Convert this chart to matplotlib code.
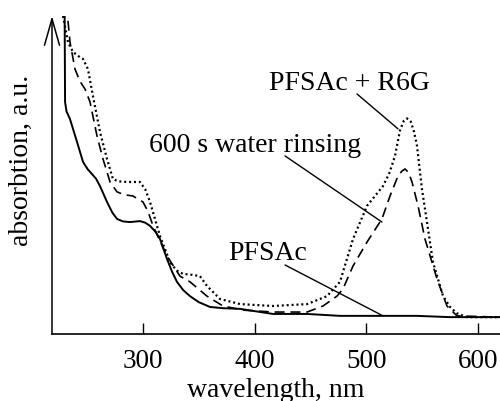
import matplotlib
matplotlib.use("Agg")
import matplotlib.pyplot as plt

plt.rcParams['font.family'] = ['Liberation Serif', 'DejaVu Serif']

# PFSAc film (solid)
wl_pfsac = [229.8, 230.2, 231.5, 234.6, 240.9, 246.3, 250.5, 254.3, 258.0, 261.5,
            267.8, 272.5, 276.7, 282.0, 288.4, 297.3, 302.0, 306.3, 311.0, 315.2,
            321.5, 326.0, 330.4, 336.0, 342.1, 350.0, 360.0, 372.0, 386.9, 416.4,
            446.9, 476.4, 514.9, 545.3, 574.9, 619.7]
abs_pfsac = [1.02, 0.730, 0.700, 0.676, 0.604, 0.541, 0.518, 0.503, 0.488, 0.465,
             0.415, 0.382, 0.362, 0.354, 0.352, 0.355, 0.350, 0.340, 0.322, 0.299,
             0.236, 0.196, 0.164, 0.138, 0.119, 0.100, 0.085, 0.081, 0.079, 0.063,
             0.063, 0.057, 0.057, 0.057, 0.053, 0.053]

# PFSAc + R6G (dotted)
wl_r6g = [228.4, 232.8, 237.3, 242.0, 246.3, 250.7, 255.2, 261.5, 267.8, 273.1,
          278.0, 285.7, 297.3, 302.0, 306.3, 315.2, 324.2, 330.0, 335.8, 344.0,
          351.0, 357.3, 369.0, 386.9, 416.4, 446.9, 464.8, 476.4, 488.1, 500.6,
          508.0, 514.9, 520.5, 525.7, 530.1, 533.5, 536.4, 539.8, 542.8, 545.4,
          549.8, 554.3, 559.7, 568.7, 575.0, 581.2, 590.1, 619.7]
abs_r6g = [1.0, 0.918, 0.887, 0.874, 0.865, 0.833, 0.748, 0.635, 0.550, 0.487,
           0.480, 0.478, 0.478, 0.455, 0.415, 0.308, 0.226, 0.200, 0.189, 0.186,
           0.182, 0.151, 0.110, 0.094, 0.088, 0.094, 0.119, 0.164, 0.299, 0.403,
           0.435, 0.465, 0.505, 0.560, 0.640, 0.670, 0.678, 0.668, 0.635, 0.591,
           0.456, 0.352, 0.226, 0.119, 0.085, 0.065, 0.053, 0.053]

# after 600 s water rinsing (dashed)
wl_rinse = [232.8, 234.6, 239.1, 243.5, 248.1, 252.5, 258.8, 264.2, 270.5, 276.7,
            283.0, 291.0, 300.0, 304.5, 309.0, 321.5, 333.1, 342.1, 357.3, 371.6,
            390.0, 416.4, 446.9, 461.2, 473.7, 479.1, 488.1, 500.6, 514.0, 521.2,
            528.4, 531.8, 534.6, 537.8, 540.9, 546.3, 552.5, 563.3, 572.2, 581.2,
            619.7]
abs_rinse = [0.985, 0.918, 0.833, 0.795, 0.770, 0.730, 0.623, 0.550, 0.478, 0.447,
             0.438, 0.434, 0.415, 0.385, 0.340, 0.245, 0.182, 0.164, 0.119, 0.088,
             0.075, 0.069, 0.069, 0.088, 0.119, 0.142, 0.214, 0.289, 0.362, 0.434,
             0.497, 0.512, 0.519, 0.508, 0.478, 0.403, 0.299, 0.173, 0.088, 0.057,
             0.053]

xticks = [300, 400, 500, 600]

fig = plt.figure(figsize=(5, 4.02), dpi=100)
ax = fig.add_axes([0.104, 0.1667, 0.896, 0.791])

ax.plot(wl_pfsac, abs_pfsac, color='black', lw=1.4, ls='-')
ax.plot(wl_r6g, abs_r6g, color='black', lw=1.6, ls=(0, (0.9, 1.3)))
ax.plot(wl_rinse, abs_rinse, color='black', lw=1.2, ls=(0, (6, 3.5)))

ax.set_xlim(218.5, 619.7)
ax.set_ylim(0, 1)
ax.set_xticks(xticks)
ax.set_yticks([])
ax.tick_params(axis='x', direction='in', length=8, width=1, pad=10, labelsize=19.5)

for s in ['left', 'top', 'right']:
    ax.spines[s].set_visible(False)
ax.spines['bottom'].set_linewidth(1.2)

# y axis drawn as an arrow
ax.annotate('', xy=(0, 1), xytext=(0, 0), xycoords='axes fraction',
            arrowprops=dict(arrowstyle='->,head_length=0.95,head_width=0.27',
                            mutation_scale=20, lw=1.1, color='black',
                            shrinkA=0, shrinkB=0), annotation_clip=False)

# curve labels with leader lines
ax.text(484.5, 0.770, 'PFSAc + R6G', ha='center', va='baseline', fontsize=20)
ax.annotate('', xy=(528.4, 0.645), xytext=(491.6, 0.755),
            arrowprops=dict(arrowstyle='-', lw=1, color='black', shrinkA=0, shrinkB=0))

ax.text(400.3, 0.575, '600 s water rinsing', ha='center', va='baseline', fontsize=20)
ax.annotate('', xy=(514.0, 0.352), xytext=(427.2, 0.560),
            arrowprops=dict(arrowstyle='-', lw=1, color='black', shrinkA=0, shrinkB=0))

ax.text(411.5, 0.236, 'PFSAc', ha='center', va='baseline', fontsize=20)
ax.annotate('', xy=(514.9, 0.057), xytext=(427.2, 0.217),
            arrowprops=dict(arrowstyle='-', lw=1, color='black', shrinkA=0, shrinkB=0))

fig.text(276 / 500, 5 / 402, 'wavelength, nm', ha='center', va='baseline', fontsize=20)
fig.text(21 / 500, 1 - 160 / 402, 'absorbtion, a.u.', ha='center', va='center',
         rotation=90, fontsize=20)

fig.savefig('out.png', dpi=100)
